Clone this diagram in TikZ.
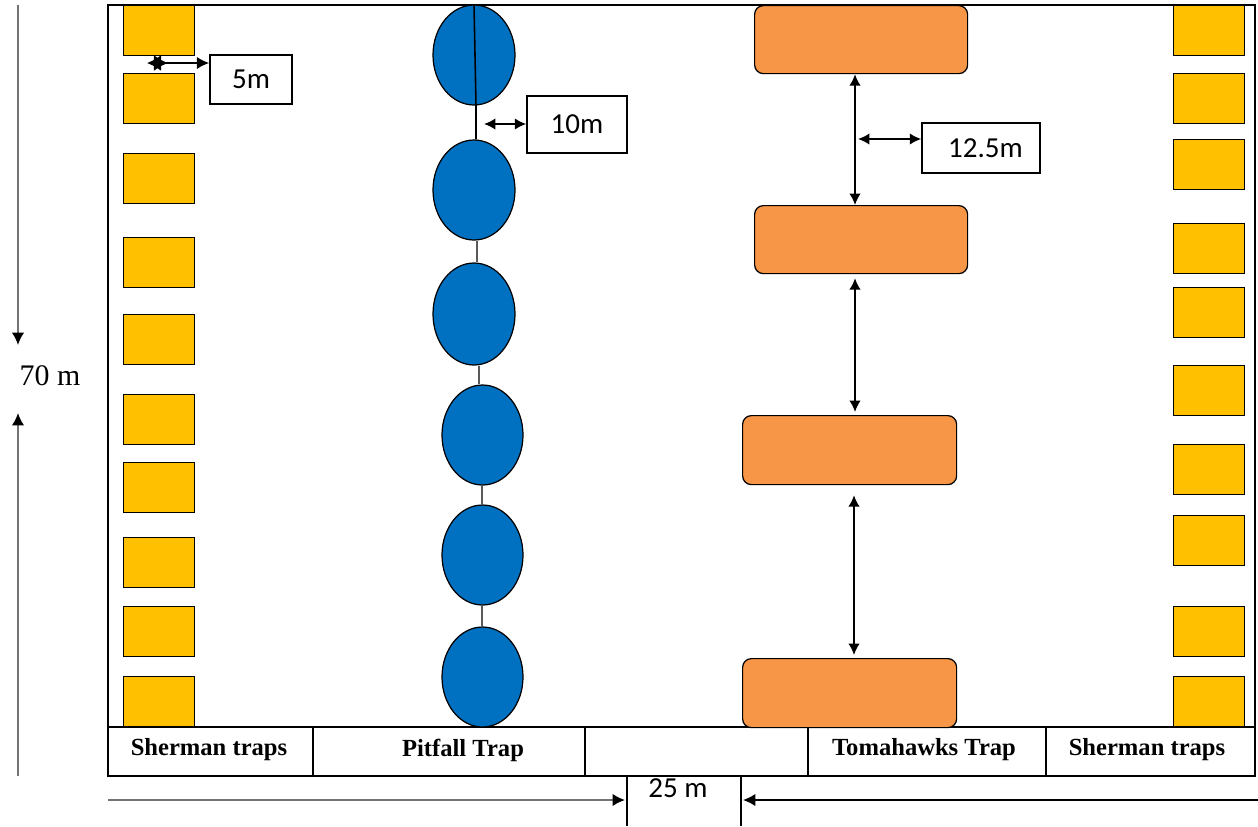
\documentclass[tikz,border=0pt]{standalone}
\usepackage{fontspec}
\setmainfont{Liberation Serif}
\newfontfamily\calib{Carlito}
\usetikzlibrary{arrows.meta,shapes.geometric}
\definecolor{shery}{HTML}{FFC000}
\definecolor{pitb}{HTML}{0070C0}
\definecolor{tomo}{HTML}{F79646}
\tikzset{
  sherbox/.style={draw=black, fill=shery, line width=0.7pt, inner sep=0pt, minimum width=71*0.02cm, minimum height=50*0.02cm, anchor=north west},
  pitell/.style={ellipse, draw=black, fill=pitb, line width=0.7pt, inner sep=0pt, minimum width=82*0.02cm, minimum height=100*0.02cm},
  tomabox/.style={draw=black, fill=tomo, line width=0.7pt, rounded corners=5pt, inner sep=0pt, minimum width=213*0.02cm, minimum height=68*0.02cm, anchor=north west},
  lblbox/.style={draw=black, fill=white, line width=0.9pt, font=\calib\fontsize{16.5}{18}\selectfont},
  hdr/.style={font=\bfseries\fontsize{14}{16}\selectfont},
  dim/.style={line width=0.9pt, {Latex[length=6.5pt,width=6.5pt]}-{Latex[length=6.5pt,width=6.5pt]}},
  arr/.style={-{Latex[length=7pt,width=7pt,color=black]}}
}
\begin{document}
\begin{tikzpicture}[x=0.02cm,y=-0.02cm]
\useasboundingbox (0,0) rectangle (1258,826);
% frame
\draw[line width=1pt] (108,5) rectangle (1255,776);
\draw[line width=1pt] (108,727) -- (1255,727);
\foreach \xx in {313,585,808,1046} \draw[line width=1pt] (\xx,727) -- (\xx,776);
\node[hdr] (h1) at (209,750) {Sherman traps};
\node[hdr] (h2) at (463,750) {Pitfall Trap};
\node[hdr] (h3) at (924,750) {Tomahawks Trap};
\node[hdr] (h4) at (1147,750) {Sherman traps};
% left sherman
\foreach \i/\yy in {1/5,2/73,3/153,4/237,5/314,6/394,7/462,8/537,9/606,10/676}
  \node[sherbox] (sl\i) at (123,\yy) {};
% right sherman
\foreach \i/\yy in {1/5,2/73,3/139,4/223,5/287,6/365,7/444,8/515,9/606,10/676}
  \node[sherbox] (sr\i) at (1173,\yy) {};
% pitfall
\node[pitell] (p1) at (474,55) {};
\node[pitell] (p2) at (474,190) {};
\node[pitell, minimum height=102*0.02cm] (p3) at (474,314) {};
\node[pitell, minimum width=81*0.02cm] (p4) at (482.5,435) {};
\node[pitell, minimum width=81*0.02cm] (p5) at (482.5,555) {};
\node[pitell, minimum width=81*0.02cm] (p6) at (482.5,677) {};
\coordinate (x1) at (476,0);
\coordinate (x2) at (477,0);
\coordinate (x3) at (479,0);
\coordinate (x4) at (482,0);
\draw[line width=0.9pt] (p1.north) -- (p1.south -| x1) -- (p2.north -| x1);
\draw[line width=0.9pt, black!65] (p2.south -| x2) -- (p3.north -| x2);
\draw[line width=0.9pt, black!65] (p3.south -| x3) -- (p4.north -| x3);
\draw[line width=0.9pt, black!65] (p4.south -| x4) -- (p5.north -| x4);
\draw[line width=0.9pt, black!65] (p5.south -| x4) -- (p6.north -| x4);
% tomahawks
\node[tomabox] (t1) at (754,5) {};
\node[tomabox] (t2) at (754,205) {};
\node[tomabox, minimum width=214*0.02cm, minimum height=69*0.02cm] (t3) at (742,415) {};
\node[tomabox, minimum width=214*0.02cm, minimum height=69*0.02cm] (t4) at (742,658) {};
\coordinate (tx1) at (855,0);
\coordinate (tx2) at (854,0);
\draw[dim] (t1.south -| tx1) -- (t2.north -| tx1);
\draw[dim] ([yshift=-4*0.02cm]t2.south -| tx1) -- ([yshift=3*0.02cm]t3.north -| tx1);
\draw[dim] ([yshift=-10*0.02cm]t3.south -| tx2) -- ([yshift=3*0.02cm]t4.north -| tx2);
% labels
\node[lblbox, minimum width=82*0.02cm, minimum height=49*0.02cm] (l5) at (251,79.5) {\raisebox{-3pt}{5m}};
\node[lblbox, minimum width=100*0.02cm, minimum height=57*0.02cm] (l10) at (577,124.5) {10m};
\node[lblbox, minimum width=118*0.02cm, minimum height=50*0.02cm] (l12) at (981,148) {\hspace*{5pt}\raisebox{-3pt}{12.5m}};
\coordinate (c5a) at (147,63);
\coordinate (c5b) at (168,63);
\coordinate (c5c) at (160,63);
\coordinate (c10) at (484,124);
\coordinate (c12) at (858,139);
\draw[line width=0.9pt, {Latex[length=8pt,width=9pt]}-{Latex[length=8pt,width=9pt]}] (c5a) -- (c5b);
\draw[line width=0.9pt, arr] (c5c) -- (c5c -| l5.west);
\draw[dim] (c10) -- (c10 -| l10.west);
\draw[dim] (c12) -- (c12 -| l12.west);
% 70 m
\node[font=\fontsize{17}{19}\selectfont] (t70) at (50,376) {70 m};
\coordinate (v1) at (18,5);
\coordinate (v2) at (18,776);
\draw[line width=1pt, black!55, arr] (v1) -- (18,345);
\draw[line width=1pt, black!55, arr] (v2) -- (18,413);
% 25 m
\draw[line width=0.9pt] (627,776) -- (627,826) (741,776) -- (741,826);
\node[font=\calib\fontsize{16.5}{18}\selectfont] (t25) at (678,788) {25 m};
\coordinate (hl) at (108,800);
\coordinate (hr) at (1258,800);
\draw[line width=1pt, black!55, arr] (hl) -- (625,800);
\draw[line width=0.9pt, arr] (hr) -- (743,800);
\end{tikzpicture}
\end{document}
